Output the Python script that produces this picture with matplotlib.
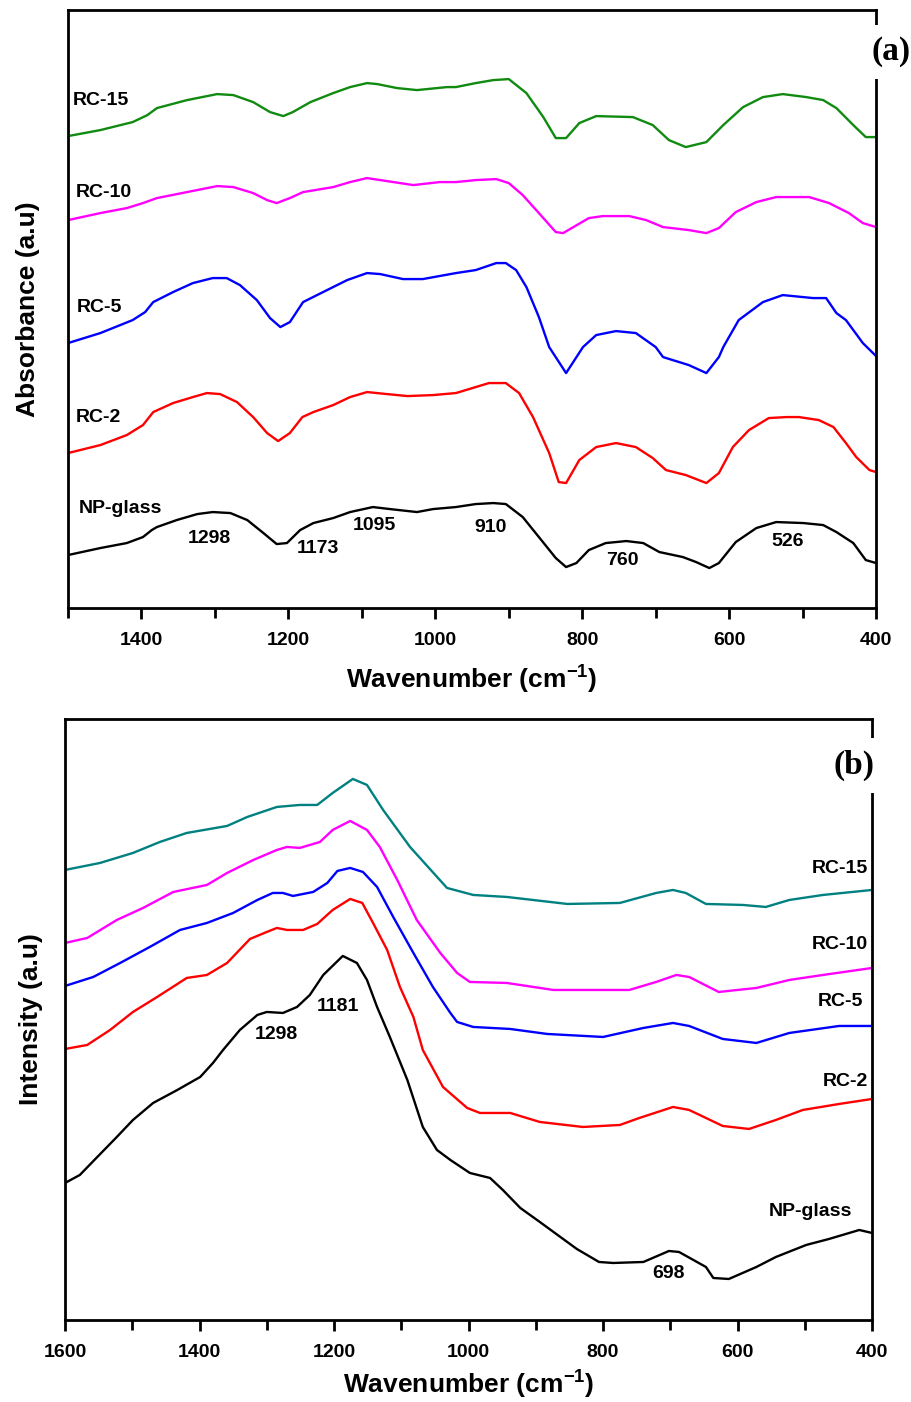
import matplotlib
matplotlib.use("Agg")
import matplotlib.pyplot as plt
from matplotlib.ticker import MultipleLocator

plt.rcParams['font.family'] = ['Liberation Sans', 'DejaVu Sans']
plt.rcParams['font.weight'] = 'bold'
plt.rcParams['mathtext.fontset'] = 'custom'
plt.rcParams['mathtext.bf'] = 'Liberation Sans:bold'
plt.rcParams['mathtext.rm'] = 'Liberation Sans:bold'

# ---- panel (a): FTIR absorbance, offset curves (a.u.) ----
a_wn_rc15 = [1500, 1456, 1412, 1392, 1379, 1338, 1297, 1275, 1248, 1225, 1207, 1194, 1170, 1139, 1116, 1093,
             1079, 1052, 1025, 984, 972, 945, 921, 900, 876, 853, 836, 822, 804, 781, 731, 704, 682, 659, 631,
             608, 581, 554, 527, 495, 472, 454, 431, 414, 400]
a_rc15 = [472, 478, 486, 493, 500, 508, 514, 513, 506, 496, 492, 496, 506, 515, 521, 525,
          524, 520, 518, 521, 521, 525, 528, 529, 515, 491, 470, 470, 485, 492, 491, 483, 468, 461, 466,
          483, 501, 511, 514, 511, 508, 500, 483, 471, 471]

a_wn_rc10 = [1500, 1456, 1420, 1398, 1379, 1338, 1297, 1275, 1248, 1229, 1216, 1198, 1180, 1139, 1116, 1093,
             1075, 1048, 1030, 994, 972, 945, 917, 900, 881, 859, 836, 826, 812, 791, 772, 736, 713, 690, 655,
             631, 614, 591, 563, 536, 491, 464, 437, 418, 400]
a_rc10 = [388, 395, 400, 405, 410, 416, 422, 421, 415, 408, 405, 410, 416, 421, 426, 430,
          428, 425, 423, 426, 426, 428, 429, 425, 413, 395, 376, 375, 381, 390, 392, 392, 388, 381, 378,
          375, 380, 396, 406, 411, 411, 405, 395, 385, 381]

a_wn_rc5 = [1500, 1456, 1412, 1395, 1384, 1357, 1330, 1303, 1284, 1266, 1243, 1225, 1211, 1198, 1180, 1161,
            1120, 1093, 1075, 1044, 1017, 972, 945, 917, 904, 890, 876, 859, 845, 822, 799, 781, 754, 727,
            700, 690, 655, 631, 614, 608, 587, 554, 527, 486, 468, 454, 441, 418, 400]
a_rc5 = [265, 275, 288, 296, 306, 316, 325, 330, 330, 323, 308, 290, 281, 286, 306, 313,
         328, 335, 334, 329, 329, 335, 338, 345, 345, 338, 321, 291, 261, 235, 261, 273, 277, 275,
         261, 251, 243, 235, 251, 261, 288, 306, 313, 310, 310, 295, 288, 265, 252]

a_wn_rc2 = [1500, 1456, 1420, 1398, 1384, 1357, 1330, 1311, 1293, 1270, 1248, 1229, 1214, 1198, 1181, 1166,
            1139, 1116, 1093, 1066, 1038, 1003, 972, 945, 927, 904, 886, 867, 845, 832, 822, 804, 781, 754,
            727, 704, 686, 659, 631, 614, 595, 573, 546, 522, 505, 478, 458, 441, 427, 409, 400]
a_rc2 = [155, 163, 173, 183, 196, 205, 211, 215, 214, 206, 191, 175, 167, 175, 191, 196,
         203, 211, 216, 214, 212, 213, 215, 221, 225, 225, 215, 191, 155, 126, 125, 148, 161, 165,
         161, 150, 138, 133, 125, 135, 161, 178, 190, 191, 191, 188, 181, 165, 151, 138, 136]

a_wn_np = [1500, 1456, 1420, 1398, 1386, 1379, 1352, 1324, 1303, 1279, 1256, 1234, 1216, 1202, 1184, 1166,
           1139, 1116, 1085, 1062, 1025, 1003, 972, 945, 921, 904, 881, 859, 836, 822, 808, 791, 768, 740,
           717, 695, 663, 645, 627, 614, 591, 563, 536, 499, 472, 454, 431, 414, 400]
a_np = [53, 60, 65, 71, 78, 81, 88, 94, 96, 95, 88, 75, 64, 65, 78, 85,
        90, 96, 101, 99, 96, 99, 101, 104, 105, 104, 91, 71, 50, 41, 45, 58, 65, 67,
        65, 56, 51, 46, 40, 45, 66, 80, 86, 85, 83, 76, 65, 48, 45]

a_names = ['RC-15', 'RC-10', 'RC-5', 'RC-2', 'NP-glass']
a_name_wn = [1493, 1490, 1488, 1490, 1486]
a_name_y = [508, 416, 301, 191, 100]
a_peaks = ['1298', '1173', '1095', '910', '760', '526']
a_peak_wn = [1307, 1160, 1083, 925, 746, 521]
a_peak_y = [70, 60, 83, 81, 48, 67]

# ---- panel (b): intensity, offset curves (a.u.) ----
b_wn_rc15 = [1600, 1548, 1499, 1459, 1419, 1359, 1329, 1285, 1251, 1225, 1202, 1172, 1151, 1127, 1087, 1032,
             993, 943, 853, 775, 721, 696, 677, 647, 592, 558, 523, 473, 400]
b_rc15 = [450, 457, 467, 478, 487, 494, 503, 513, 515, 515, 527, 541, 535, 510, 473, 432,
          425, 423, 416, 417, 427, 430, 427, 416, 415, 413, 420, 425, 430]

b_wn_rc10 = [1600, 1567, 1523, 1484, 1439, 1389, 1359, 1320, 1285, 1270, 1251, 1221, 1202, 1176, 1151, 1132,
             1106, 1077, 1042, 1017, 998, 943, 874, 805, 761, 721, 691, 672, 628, 572, 523, 473, 400]
b_rc10 = [377, 382, 400, 412, 428, 435, 447, 460, 470, 473, 472, 478, 490, 499, 490, 473,
          440, 400, 367, 347, 338, 337, 330, 330, 330, 338, 345, 343, 328, 332, 340, 345, 352]

b_wn_rc5 = [1600, 1558, 1518, 1474, 1429, 1389, 1350, 1314, 1291, 1276, 1261, 1231, 1210, 1195, 1176, 1157,
            1136, 1112, 1082, 1053, 1027, 1017, 993, 938, 883, 800, 740, 696, 672, 622, 572, 523, 449, 400]
b_rc5 = [334, 343, 357, 373, 390, 397, 407, 420, 427, 427, 424, 428, 437, 449, 452, 448,
         433, 403, 367, 333, 307, 298, 293, 291, 286, 283, 292, 297, 294, 281, 277, 287, 294, 294]

b_wn_rc2 = [1600, 1567, 1533, 1499, 1463, 1419, 1389, 1359, 1325, 1300, 1285, 1270, 1246, 1225, 1202, 1176,
            1158, 1142, 1121, 1102, 1082, 1068, 1038, 1002, 983, 938, 894, 830, 775, 746, 696, 672, 622,
            583, 543, 503, 449, 400]
b_rc2 = [271, 275, 290, 308, 323, 342, 345, 357, 381, 388, 392, 390, 390, 396, 410, 421,
         417, 397, 370, 333, 303, 270, 233, 212, 207, 207, 198, 193, 195, 202, 213, 210, 194,
         191, 200, 210, 216, 221]

b_wn_np = [1600, 1578, 1552, 1523, 1499, 1469, 1433, 1399, 1380, 1365, 1340, 1314, 1300, 1276, 1255, 1236,
           1216, 1187, 1166, 1151, 1136, 1117, 1091, 1068, 1047, 1027, 998, 968, 949, 923, 894, 839, 806,
           785, 740, 702, 687, 647, 636, 613, 572, 543, 498, 464, 419, 400]
b_np = [137, 145, 163, 183, 200, 217, 230, 243, 257, 270, 290, 305, 308, 307, 313, 325,
        345, 364, 357, 340, 313, 283, 240, 193, 170, 160, 147, 142, 130, 112, 98, 71, 58,
        57, 58, 69, 68, 53, 42, 41, 53, 63, 75, 81, 90, 87]

b_names = ['RC-15', 'RC-10', 'RC-5', 'RC-2', 'NP-glass']
b_name_wn = [406, 406, 413, 406, 430]
b_name_y = [451, 375, 318, 238, 108]
b_peaks = ['1298', '1181', '698']
b_peak_wn = [1285, 1194, 702]
b_peak_y = [285, 313, 46]

fig = plt.figure(figsize=(9.12, 14.02), dpi=100)
ax1 = fig.add_axes([0.0746, 0.5663, 0.886, 0.4265])
ax2 = fig.add_axes([0.0713, 0.0585, 0.8849, 0.4287])

top_series = [(a_wn_rc15, a_rc15, '#108a10'), (a_wn_rc10, a_rc10, '#ff00ff'), (a_wn_rc5, a_rc5, '#0000ff'),
              (a_wn_rc2, a_rc2, '#ff0000'), (a_wn_np, a_np, 'black')]
bot_series = [(b_wn_rc15, b_rc15, '#008080'), (b_wn_rc10, b_rc10, '#ff00ff'), (b_wn_rc5, b_rc5, '#0000ff'),
              (b_wn_rc2, b_rc2, '#ff0000'), (b_wn_np, b_np, 'black')]

for x, y, c in top_series:
    ax1.plot(x, y, color=c, lw=1.7, solid_joinstyle='round')
for x, y, c in bot_series:
    ax2.plot(x, y, color=c, lw=1.7, solid_joinstyle='round')

for ax in (ax1, ax2):
    ax.set_yticks([])
    ax.xaxis.set_major_locator(MultipleLocator(200))
    ax.xaxis.set_minor_locator(MultipleLocator(100))
    ax.tick_params(axis='x', which='major', direction='out', length=8, width=2, labelsize=14, pad=9)
    ax.tick_params(axis='x', which='minor', direction='out', length=7, width=2)
    for s in ax.spines.values():
        s.set_linewidth(2)

ax1.set_xlabel(r'Wavenumber (cm$^{\mathbf{-1}}$)', fontsize=19, fontweight='bold', labelpad=10)
ax2.set_xlabel(r'Wavenumber (cm$^{\mathbf{-1}}$)', fontsize=19, fontweight='bold', labelpad=5)

ax1.set_xlim(1500, 400)
ax1.set_ylim(0, 598)
ax2.set_xlim(1600, 400)
ax2.set_ylim(0, 601)

ax1.set_ylabel('Absorbance (a.u)', fontsize=19, fontweight='bold', labelpad=20)
ax2.set_ylabel('Intensity (a.u)', fontsize=19, fontweight='bold', labelpad=16)

for n, xx, yy in zip(a_names, a_name_wn, a_name_y):
    ax1.text(xx, yy, n, fontsize=14, fontweight='bold', ha='left', va='center')
for n, xx, yy in zip(a_peaks, a_peak_wn, a_peak_y):
    ax1.text(xx, yy, n, fontsize=14, fontweight='bold', ha='center', va='center')
for n, xx, yy in zip(b_names, b_name_wn, b_name_y):
    ax2.text(xx, yy, n, fontsize=14, fontweight='bold', ha='right', va='center')
for n, xx, yy in zip(b_peaks, b_peak_wn, b_peak_y):
    ax2.text(xx, yy, n, fontsize=14, fontweight='bold', ha='center', va='center')

box = dict(boxstyle='square,pad=0.35', fc='white', ec='none')
ax1.text(1.0186, 0.930, '(a)', transform=ax1.transAxes, family='Liberation Serif', fontsize=24,
         fontweight='bold', ha='center', va='center', bbox=box, zorder=10, clip_on=False)
ax2.text(0.978, 0.923, '(b)', transform=ax2.transAxes, family='Liberation Serif', fontsize=24,
         fontweight='bold', ha='center', va='center', bbox=box, zorder=10, clip_on=False)

fig.savefig('out.png', dpi=100)
